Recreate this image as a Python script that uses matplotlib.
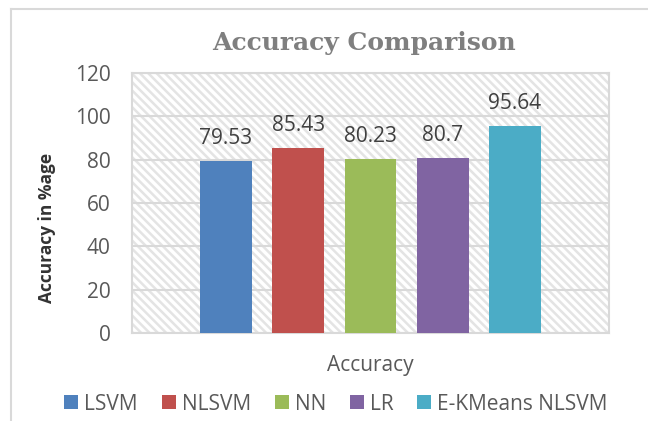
import matplotlib
matplotlib.use("Agg")
import matplotlib.pyplot as plt
from matplotlib.lines import Line2D
from matplotlib.patches import Rectangle, Patch

series = ["LSVM", "NLSVM", "NN", "LR", "E-KMeans NLSVM"]
values = [79.53, 85.43, 80.23, 80.7, 95.64]
value_labels = ["79.53", "85.43", "80.23", "80.7", "95.64"]
colors = ["#4F81BD", "#C0504D", "#9BBB59", "#8064A2", "#4BACC6"]
yticks = [0, 20, 40, 60, 80, 100, 120]

W, H = 648, 421
fig = plt.figure(figsize=(W / 100, H / 100), dpi=100)
fig.patch.set_facecolor("white")

# chart border (top and left visible)
fig.add_artist(Line2D([11 / W, 1], [1 - 9 / H, 1 - 9 / H], color="#d9d9d9", lw=1.5))
fig.add_artist(Line2D([11 / W, 11 / W], [0, 1 - 9 / H], color="#d9d9d9", lw=1.5))

left, right, top, bottom = 132, 609, 73, 333
ax = fig.add_axes([left / W, 1 - bottom / H, (right - left) / W, (bottom - top) / H])
ax.set_xlim(0, 1)
ax.set_ylim(0, 120)

plt.rcParams["hatch.color"] = "#e4e4e4"
plt.rcParams["hatch.linewidth"] = 1.8
bg = Rectangle((0, 0), 1, 1, transform=ax.transAxes, facecolor="white",
               edgecolor="#e4e4e4", hatch="\\\\\\\\", lw=0, zorder=0)
ax.add_patch(bg)

for y in yticks:
    ax.axhline(y, color="#d9d9d9", lw=1.5, zorder=1)

step = 0.1515
width = 0.109
for i, (s, v, c, lab) in enumerate(zip(series, values, colors, value_labels)):
    x = 0.5 + (i - 2) * step
    ax.bar(x, v, width=width, color=c, zorder=3, label=s)
    ax.text(x, v + 7.9, lab, ha="center", va="baseline", fontsize=15,
            color="#404040", family="Open Sans", zorder=4)

for sp in ax.spines.values():
    sp.set_color("#d9d9d9")
    sp.set_linewidth(1.5)
ax.set_xticks([])
ax.set_yticks(yticks)
ax.set_yticklabels([str(t) for t in yticks], fontsize=15, color="#595959", family="Open Sans")
ax.tick_params(axis="y", length=0, pad=15.5)
ax.set_facecolor("none")

fig.text(47 / W, 1 - 228 / H, "Accuracy in %age", rotation=90, ha="center", va="center",
         fontsize=12.5, fontweight="bold", color="#333333", family="Open Sans")

fig.text((left + right) / 2 / W, 1 - 366 / H, "Accuracy", ha="center", va="center",
         fontsize=15, color="#595959", family="Open Sans")
fig.text(364 / W, 1 - 43 / H, "Accuracy Comparison", ha="center", va="center",
         fontsize=18, fontweight="bold", color="#7f7f7f", family="DejaVu Serif")

handles = [Patch(facecolor=c, edgecolor="none") for c in colors]
fs = 15
leg = fig.legend(handles, series, loc="center", bbox_to_anchor=(336 / W, 1 - 404 / H),
                 ncol=5, frameon=False, handlelength=0.67, handleheight=0.67,
                 handletextpad=0.29, columnspacing=1.15, borderpad=0, borderaxespad=0,
                 prop={"family": "Open Sans", "size": fs})
for t in leg.get_texts():
    t.set_color("#595959")

fig.savefig("out.png", dpi=100)
